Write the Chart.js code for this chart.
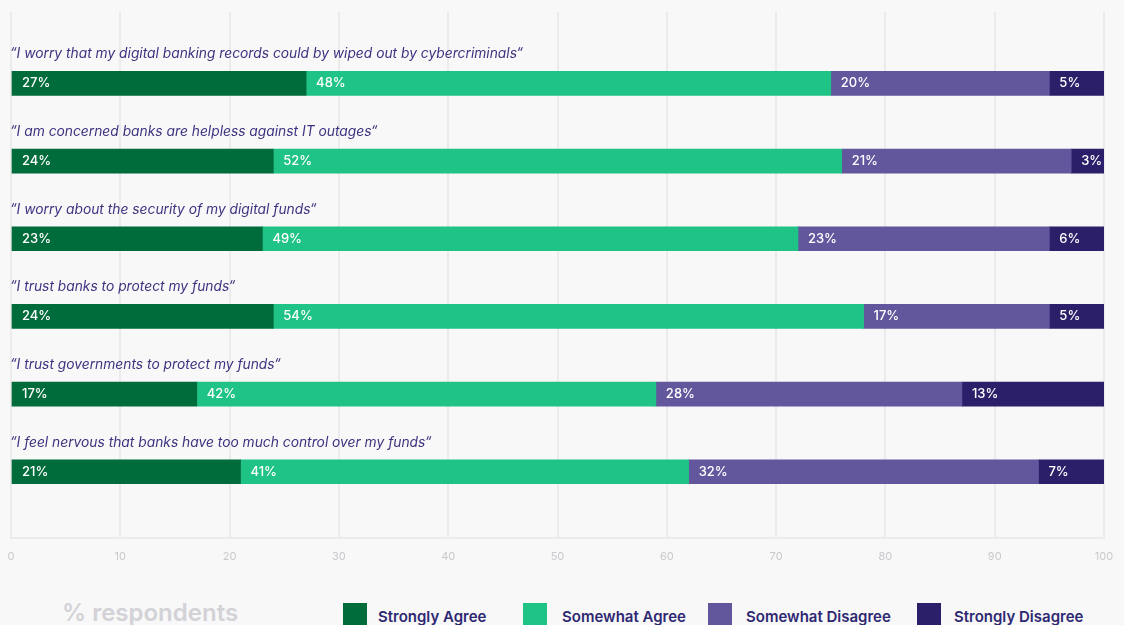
<!DOCTYPE html>
<html>
<head>
<meta charset="utf-8">
<script src="https://cdn.jsdelivr.net/npm/chart.js@4/dist/chart.umd.min.js"></script>
<style>
  html, body { margin: 0; padding: 0; background: #f8f8f8; width: 1124px; height: 625px; overflow: hidden; font-family: Inter, "Noto Sans", sans-serif; }
  #wrap { position: absolute; left: 0; top: 0; width: 1124px; height: 575px; }
  #axisTitle { position: absolute; left: 62px; top: 601px; font-size: 24px; line-height: 1; font-weight: 600; color: #d2d2d7; white-space: nowrap; }
  .lg-box { position: absolute; top: 603px; width: 24px; height: 24px; }
  .lg-text { position: absolute; top: 609px; font-size: 15px; line-height: 1; font-weight: 600; color: #2e2872; white-space: nowrap; }
</style>
</head>
<body>
<div id="wrap"><canvas id="c"></canvas></div>
<div id="axisTitle"></div>
<div id="legend"></div>
<script>
// ---- data ----
const categories = [
  "\u201CI worry that my digital banking records could by wiped out by cybercriminals\u201C",
  "\u201CI am concerned banks are helpless against IT outages\u201C",
  "\u201CI worry about the security of my digital funds\u201C",
  "\u201CI trust banks to protect my funds\u201C",
  "\u201CI trust governments to protect my funds\u201C",
  "\u201CI feel nervous that banks have too much control over my funds\u201C"
];
const seriesNames = ["Strongly Agree", "Somewhat Agree", "Somewhat Disagree", "Strongly Disagree"];
const stronglyAgree    = [27, 24, 23, 24, 17, 21];
const somewhatAgree    = [48, 52, 49, 54, 42, 41];
const somewhatDisagree = [20, 21, 23, 17, 28, 32];
const stronglyDisagree = [5, 3, 6, 5, 13, 7];
const xTicks = [0, 10, 20, 30, 40, 50, 60, 70, 80, 90, 100];
const axisTitle = "% respondents";

// ---- styles ----
const colors = ["#006b3b", "#1fc385", "#62579d", "#2c1f6a"];
const legendPos = [{box: 343, text: 378}, {box: 523, text: 562}, {box: 708, text: 746}, {box: 917, text: 954}];
const FONT = "Inter, 'Noto Sans', sans-serif";

const allSeries = [stronglyAgree, somewhatAgree, somewhatDisagree, stronglyDisagree];

const datasets = allSeries.map((vals, s) => ({
  label: seriesNames[s],
  data: vals.map((v, i) => ({ x: v, y: i })),
  backgroundColor: colors[s],
  borderWidth: 0,
  barThickness: 24,
  clip: 0
}));

const labelsPlugin = {
  id: 'labels',
  afterDatasetsDraw(chart) {
    const ctx = chart.ctx;
    const xs = chart.scales.x, ys = chart.scales.y;
    ctx.save();
    // quote labels above bars
    ctx.font = "italic 400 13.8px " + FONT;
    ctx.fillStyle = "#3d3480";
    ctx.textAlign = "left";
    ctx.textBaseline = "alphabetic";
    categories.forEach((c, i) => {
      ctx.fillText(c, xs.left - 1, ys.getPixelForValue(i) - 25);
    });
    // value labels
    ctx.font = "500 13px " + FONT;
    ctx.fillStyle = "#ffffff";
    ctx.textBaseline = "middle";
    chart.data.datasets.forEach((ds, d) => {
      const meta = chart.getDatasetMeta(d);
      meta.data.forEach((el, i) => {
        const v = allSeries[d][i];
        ctx.fillText(v + "%", Math.min(el.base, el.x) + 10, el.y);
      });
    });
    ctx.restore();
  }
};

new Chart(document.getElementById('c'), {
  type: 'bar',
  data: { datasets },
  options: {
    indexAxis: 'y',
    responsive: true,
    maintainAspectRatio: false,
    animation: false,
    devicePixelRatio: 1,
    layout: { padding: { top: 12, left: 11, right: 20, bottom: 0 } },
    plugins: { legend: { display: false }, tooltip: { enabled: false } },
    scales: {
      x: {
        type: 'linear', min: 0, max: 100, stacked: true,
        afterBuildTicks(scale) { scale.ticks = xTicks.map(v => ({ value: v })); },
        afterFit(scale) { scale.paddingLeft = 0; scale.paddingRight = 0; },
        grid: { color: '#ebebeb', lineWidth: 2, drawTicks: false },
        border: { display: true, color: '#ebebeb', width: 2 },
        ticks: { color: '#c9c9cd', padding: 12, font: { family: FONT, size: 11 } }
      },
      y: {
        type: 'linear', reverse: true, min: -0.92, max: 5.85, stacked: true,
        offset: false, display: false
      }
    }
  },
  plugins: [labelsPlugin]
});

// axis title and legend (HTML text)
document.getElementById('axisTitle').textContent = axisTitle;
const lg = document.getElementById('legend');
seriesNames.forEach((name, s) => {
  const b = document.createElement('div');
  b.className = 'lg-box';
  b.style.left = legendPos[s].box + 'px';
  b.style.background = colors[s];
  lg.appendChild(b);
  const t = document.createElement('div');
  t.className = 'lg-text';
  t.style.left = legendPos[s].text + 'px';
  t.textContent = name;
  lg.appendChild(t);
});
</script>
</body>
</html>
